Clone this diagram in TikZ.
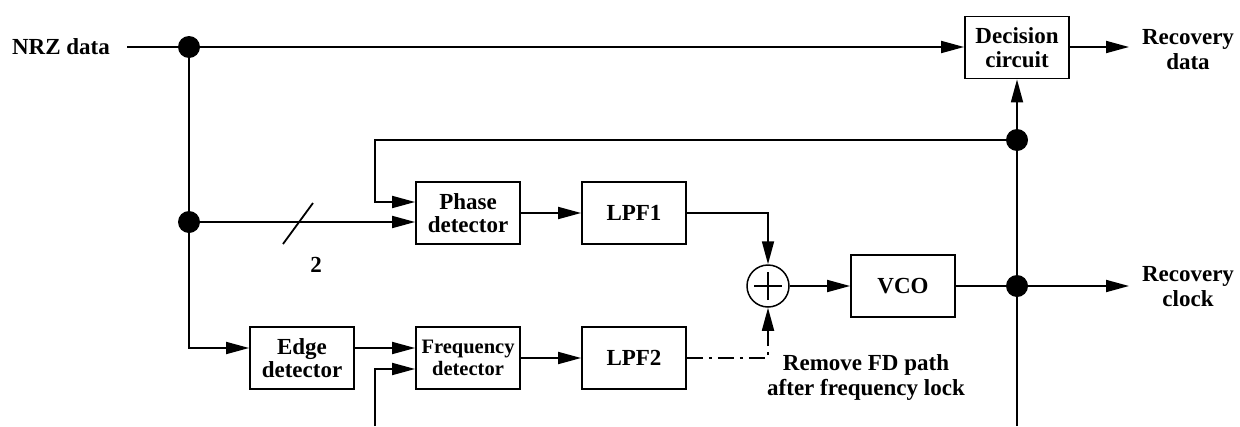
\documentclass[tikz,border=0pt]{standalone}
\usepackage{fontspec}
\setmainfont{Liberation Serif}
\usetikzlibrary{arrows.meta}
\tikzset{
  x=1pt, y=-1pt,
  wire/.style={line width=1.8pt},
  arr/.style={wire, -{Triangle[length=23pt,width=12pt]}},
  blk/.style={draw, line width=1.8pt, minimum width=104pt, minimum height=62pt, inner sep=0pt,
              align=center, font=\fontsize{23}{23.5}\selectfont\bfseries},
  lbl/.style={align=center, font=\fontsize{23}{25}\selectfont\bfseries, inner sep=0pt},
  dot/.style={circle, fill=black, minimum size=22pt, inner sep=0pt},
  sumn/.style={circle, draw, line width=1.5pt, minimum size=42pt, inner sep=0pt},
  dashdot/.style={wire, dash pattern=on 16pt off 6pt on 3pt off 6pt}
}
\begin{document}
\begin{tikzpicture}
\useasboundingbox (0,0) rectangle (1240,426);
% blocks
\node[blk] (dec) at (1017,47.5) {Decision\\circuit};
\node[blk] (pd) at (468,213) {Phase\\detector};
\node[blk] (lpf1) at (634,213) {LPF1};
\node[blk] (ed) at (302,358) {Edge\\detector};
\node[blk, font=\fontsize{20.5}{22}\selectfont\bfseries] (fd) at (468,358) {Frequency\\detector};
\node[blk] (lpf2) at (634,358) {LPF2};
\node[blk] (vco) at (903,286) {VCO};
\node[sumn] (sum) at (768,286) {};
\draw[line width=1.3pt] ([xshift=-14pt]sum.center) -- ([xshift=14pt]sum.center)
  ([yshift=-14pt]sum.center) -- ([yshift=14pt]sum.center);
% labels
\node[lbl] (nrz) at (61,47) {NRZ data};
\node[lbl] (rdata) at (1188,50) {Recovery\\data};
\node[lbl] (rclk) at (1188,287) {Recovery\\clock};
\node[lbl] (rem) at (866,377) {Remove FD path\\after frequency lock};
\node[lbl] (two) at (316,265) {2};
% junction dots
\node[dot] (d1) at (189,47) {};
\node[dot] (d2) at (189,222) {};
\node[dot] (d3) at (1017,140) {};
\node[dot] (d4) at (1017,286) {};
% helper coordinates
\coordinate (nin) at (127,47);
\coordinate (fbc) at (375,140);
\coordinate (fdin) at (375,426);
\coordinate (vbot) at (1017,426);
\coordinate (odata) at (1129,47);
\coordinate (oclk) at (1129,286);
\coordinate (s1) at (283,244);
\coordinate (s2) at (313,203);
% connectors
\draw[wire] (nin) -- (d1);
\draw[arr] (d1) -- (dec.west |- d1);
\draw[arr] (dec.east |- odata) -- (odata);
\draw[wire] (d1) -- (d2);
\draw[arr] (d2) -- (d2 -| pd.west);
\draw[wire] (s1) -- (s2);
\draw[arr] (d2) |- ([yshift=10pt]ed.west);
\draw[arr] (d3) -- (fbc) |- ([yshift=11pt]pd.west);
\draw[arr] (pd) -- (lpf1);
\draw[arr] (lpf1.east) -| (sum.north);
\draw[arr] ([yshift=10pt]ed.east) -- ([yshift=10pt]fd.west);
\draw[arr] (fdin) |- ([yshift=-11pt]fd.west);
\draw[arr] (fd) -- (lpf2);
\draw[dashdot] (lpf2.east) -| ([yshift=-22pt]sum.south);
\draw[arr] ([yshift=-22pt]sum.south) -- (sum.south);
\draw[arr] (sum) -- (vco);
\draw[wire] (vco) -- (d4);
\draw[arr] (d4) -- (oclk);
\draw[wire] (vbot) -- (d4);
\draw[wire] (d4) -- (d3);
\draw[arr] (d3) -- (dec.south);
\end{tikzpicture}
\end{document}
